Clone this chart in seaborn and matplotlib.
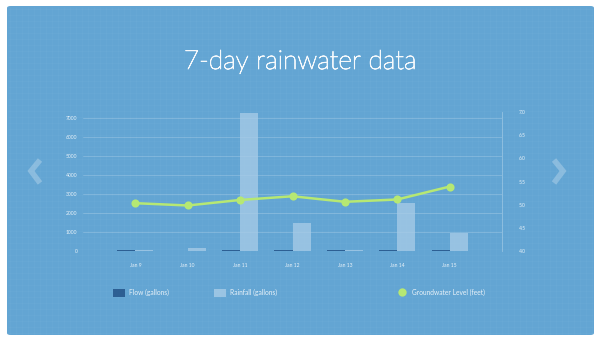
import matplotlib
matplotlib.use("Agg")
import matplotlib.pyplot as plt
import matplotlib.patheffects as pe
from matplotlib.patches import FancyBboxPatch, Patch
from matplotlib.lines import Line2D
import pandas as pd
import seaborn as sns

days = ["Jan 9", "Jan 10", "Jan 11", "Jan 12", "Jan 13", "Jan 14", "Jan 15"]
flow_gallons = [50, 0, 30, 40, 40, 40, 40]
rainfall_gallons = [20, 160, 7300, 1480, 20, 2510, 920]
groundwater_feet = [5.03, 4.98, 5.10, 5.18, 5.06, 5.11, 5.39]
left_ticks = [0, 1000, 2000, 3000, 4000, 5000, 6000, 7000]
right_ticks = [4.0, 4.5, 5.0, 5.5, 6.0, 6.5, 7.0]

CARD = "#63a5d3"
FLOW_C = "#2d5f93"
RAIN_C = "#a9cde8"
LINE_C = "#b6e873"
TXT = (1, 1, 1, 0.85)

sns.set_theme(style="white")
plt.rcParams["font.family"] = ["Lato", "DejaVu Sans"]

fig = plt.figure(figsize=(6.0, 3.43), dpi=100, facecolor="white")

# rounded blue card behind everything
card = FancyBboxPatch((7 / 600, 8 / 343), 587 / 600, 329 / 343,
                      boxstyle="round,pad=0,rounding_size=0.006",
                      transform=fig.transFigure, facecolor=CARD,
                      edgecolor="none", zorder=-2)
fig.patches.append(card)

# faint graph-paper texture
for gx in range(10, 594, 6):
    fig.add_artist(Line2D([gx / 600, gx / 600], [8 / 343, 336 / 343],
                          transform=fig.transFigure, color="white",
                          alpha=0.03, lw=0.5, zorder=-1))
for gy in range(10, 336, 6):
    fig.add_artist(Line2D([8 / 600, 593 / 600], [gy / 343, gy / 343],
                          transform=fig.transFigure, color="white",
                          alpha=0.03, lw=0.5, zorder=-1))

fig.text(0.5, 1 - 69 / 343, "7-day rainwater data", ha="center",
         va="baseline", fontsize=19, fontweight="light", color="white",
         alpha=0.9,
         path_effects=[pe.Stroke(linewidth=0.6, foreground="white"), pe.Normal()])

# navigation chevrons
for pts in ([(40, 160), (31, 171), (40, 183)], [(554, 160), (563, 171), (554, 183)]):
    xs = [p[0] / 600 for p in pts]
    ys = [1 - p[1] / 343 for p in pts]
    fig.add_artist(Line2D(xs, ys, transform=fig.transFigure, color="white",
                          alpha=0.25, lw=4, solid_capstyle="butt",
                          solid_joinstyle="miter", zorder=-1))

ax = fig.add_axes([83 / 600, 1 - 250.7 / 343, 419 / 600, 138.4 / 343])
ax.set_facecolor("none")

bars = pd.DataFrame({
    "day": days * 2,
    "value": flow_gallons + rainfall_gallons,
    "series": ["Flow (gallons)"] * 7 + ["Rainfall (gallons)"] * 7,
})
sns.barplot(data=bars, x="day", y="value", hue="series", ax=ax,
            palette=[FLOW_C, RAIN_C], width=0.69, saturation=1,
            legend=False, linewidth=0, edgecolor="none", zorder=2)
for p in ax.patches:
    if p.get_facecolor()[0] > 0.5:
        p.set_alpha(0.75)

ax.set_ylim(0, 7320)
ax.set_yticks(left_ticks)
ax.set_yticklabels([str(t) for t in left_ticks])
for t in left_ticks:
    ax.axhline(t, color="white", alpha=0.22, lw=0.6, zorder=1)
ax.set_xlabel("")
ax.set_ylabel("")

ax2 = ax.twinx()
ax2.set_facecolor("none")
gw = pd.DataFrame({"day": days, "level": groundwater_feet})
sns.pointplot(data=gw, x="day", y="level", ax=ax2, color=LINE_C,
              markersize=4.5, linewidth=1.8, zorder=4)
ax2.set_ylim(4.0, 7.0)
ax2.set_yticks(right_ticks)
ax2.set_yticklabels([f"{t:.1f}" for t in right_ticks])
ax2.set_xlabel("")
ax2.set_ylabel("")

for a in (ax, ax2):
    a.set_xlim(-1, 7)
    for s in a.spines.values():
        s.set_visible(False)
    a.tick_params(length=0, labelsize=3.6, labelcolor=TXT)

ax.tick_params(axis="x", pad=9)
ax.tick_params(axis="y", pad=4)
ax2.tick_params(axis="y", pad=12)
ax2.spines["right"].set_visible(True)
ax2.spines["right"].set_color((1, 1, 1, 0.3))
ax2.spines["right"].set_linewidth(0.6)

# legend row
legend_items = [
    (Patch(facecolor=FLOW_C, edgecolor="none"), "Flow (gallons)", 110),
    (Patch(facecolor=RAIN_C, edgecolor="none", alpha=0.8), "Rainfall (gallons)", 211),
    (Line2D([], [], marker="o", color="none", markerfacecolor=LINE_C,
            markeredgecolor="none", markersize=6), "Groundwater Level (feet)", 393),
]
for handle, label, xpx in legend_items:
    fig.legend([handle], [label], loc="center left",
               bbox_to_anchor=(xpx / 600, 1 - 293 / 343), frameon=False,
               fontsize=4.8, labelcolor=TXT, handlelength=1.7,
               handleheight=1.5, handletextpad=0.7, borderpad=0)

fig.savefig("out.png", dpi=100, facecolor="white")
